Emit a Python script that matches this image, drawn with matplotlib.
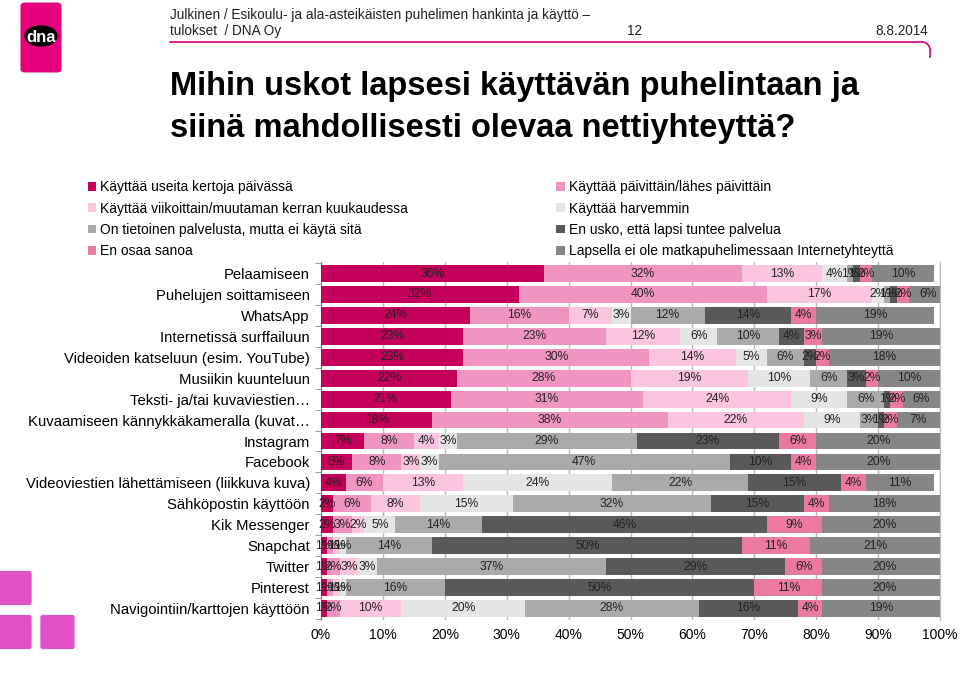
import matplotlib.pyplot as plt
import matplotlib.patches as mpatches
import numpy as np

plt.rcParams['font.family'] = ['Liberation Sans', 'DejaVu Sans']

categories = ["Pelaamiseen", "Puhelujen soittamiseen", "WhatsApp", "Internetissä surffailuun",
              "Videoiden katseluun (esim. YouTube)", "Musiikin kuunteluun",
              "Teksti- ja/tai kuvaviestien…", "Kuvaamiseen kännykkäkameralla (kuvat…",
              "Instagram", "Facebook", "Videoviestien lähettämiseen (liikkuva kuva)",
              "Sähköpostin käyttöön", "Kik Messenger", "Snapchat", "Twitter", "Pinterest",
              "Navigointiin/karttojen käyttöön"]

series_names = ["Käyttää useita kertoja päivässä", "Käyttää päivittäin/lähes päivittäin",
                "Käyttää viikoittain/muutaman kerran kuukaudessa", "Käyttää harvemmin",
                "On tietoinen palvelusta, mutta ei käytä sitä", "En usko, että lapsi tuntee palvelua",
                "En osaa sanoa", "Lapsella ei ole matkapuhelimessaan Internetyhteyttä"]

useita = [36, 32, 24, 23, 23, 22, 21, 18, 7, 5, 4, 2, 2, 1, 1, 1, 1]
paivittain = [32, 40, 16, 23, 30, 28, 31, 38, 8, 8, 6, 6, 3, 1, 2, 1, 2]
viikoittain = [13, 17, 7, 12, 14, 19, 24, 22, 4, 3, 13, 8, 2, 1, 3, 1, 10]
harvemmin = [4, 2, 3, 6, 5, 10, 9, 9, 3, 3, 24, 15, 5, 1, 3, 1, 20]
tietoinen = [1, 1, 12, 10, 6, 6, 6, 3, 29, 47, 22, 32, 14, 14, 37, 16, 28]
en_usko = [1, 1, 14, 4, 2, 3, 1, 1, 23, 10, 15, 15, 46, 50, 29, 50, 16]
en_osaa = [2, 2, 4, 3, 2, 2, 2, 2, 6, 4, 4, 4, 9, 11, 6, 11, 4]
ei_nettia = [10, 6, 19, 19, 18, 10, 6, 7, 20, 20, 11, 18, 20, 21, 20, 20, 19]

all_series = [useita, paivittain, viikoittain, harvemmin, tietoinen, en_usko, en_osaa, ei_nettia]
colors = ["#C4005A", "#F095C2", "#FBC5E0", "#E5E5E5", "#AAAAAA", "#595959", "#EC7A9F", "#868686"]

fig = plt.figure(figsize=(9.6, 6.95), dpi=100)

# header
fig.text(170/960, 1-15/695, "Julkinen / Esikoulu- ja ala-asteikäisten puhelimen hankinta ja käyttö –",
         fontsize=9.8, va='center', color='#222222')
fig.text(170/960, 1-31/695, "tulokset  / DNA Oy", fontsize=9.8, va='center', color='#222222')
fig.text(634/960, 1-31/695, "12", fontsize=9.8, va='center', ha='center', color='#222222')
fig.text(928/960, 1-31/695, "8.8.2014", fontsize=9.8, va='center', ha='right', color='#222222')
fig.add_artist(plt.Line2D([170/960, 922/960], [1-42/695, 1-42/695], color='#D4007A', lw=1.2))
fig.add_artist(mpatches.Arc((922/960, 1-50/695), 16/960, 16/695, theta1=0, theta2=90,
                            color='#D4007A', lw=1.2))
fig.add_artist(plt.Line2D([930/960, 930/960], [1-50/695, 1-57/695], color='#D4007A', lw=1.2))

fig.text(170/960, 1-86/695, "Mihin uskot lapsesi käyttävän puhelintaan ja", fontsize=23.5,
         fontweight='bold', va='center')
fig.text(170/960, 1-128/695, "siinä mahdollisesti olevaa nettiyhteyttä?", fontsize=23.5,
         fontweight='bold', va='center')

# logo
fig.add_artist(mpatches.FancyBboxPatch((25/960, 1-69/695), 32/960, 63/695,
                                       boxstyle="round,pad=0.004", color='#E6007E'))
fig.add_artist(mpatches.Ellipse((41/960, 1-36/695), 32/960, 20/695, color='black'))
fig.text(41/960, 1-37/695, "dna", color='white', fontsize=12, fontweight='bold',
         ha='center', va='center')

# decorative squares bottom left
for (x0, y0) in [(0, 573), (0, 617), (43, 617)]:
    fig.add_artist(mpatches.FancyBboxPatch((x0/960, 1-(y0+30)/695), 29/960, 30/695,
                                           boxstyle="round,pad=0.002", color='#E152C4'))

ax = fig.add_axes([321/960, 1-620/695, 619/960, 358/695])
y = np.arange(len(categories))
left = np.zeros(len(categories))
for vals, col, name in zip(all_series, colors, series_names):
    vals = np.array(vals, dtype=float)
    ax.barh(y, vals, left=left, height=0.8, color=col, label=name, zorder=3)
    for yi, (l, v) in enumerate(zip(left, vals)):
        ax.text(l + v/2, yi, f"{int(v)}%", ha='center', va='center', fontsize=8.7,
                color='#222222', zorder=4)
    left += vals

ax.set_xlim(0, 100)
ax.set_ylim(len(categories) - 0.45, -0.55)
ax.set_xticks(np.arange(0, 101, 10))
ax.set_xticklabels([f"{t}%" for t in range(0, 101, 10)], fontsize=10)
ax.set_yticks(y)
ax.set_yticklabels(categories, fontsize=10.7)
ax.set_yticks(np.arange(-0.5, len(categories), 1), minor=True)
ax.tick_params(axis='y', which='major', length=0, pad=8)
ax.tick_params(axis='y', which='minor', length=4, color='#888888')
ax.tick_params(axis='x', length=0, pad=6)
ax.grid(axis='x', color='#BBBBBB', lw=1, zorder=0)
for s in ['top', 'bottom']:
    ax.spines[s].set_visible(False)
ax.spines['left'].set_color('#888888')
ax.spines['right'].set_color('#BBBBBB')

handles, labels = ax.get_legend_handles_labels()
order = [0, 2, 4, 6, 1, 3, 5, 7]
fig.legend([handles[i] for i in order], [labels[i] for i in order], ncol=2,
           loc='upper left', bbox_to_anchor=(75/960, 1-168/695), frameon=False,
           fontsize=10, handlelength=0.6, handleheight=0.6, handletextpad=0.3,
           labelspacing=0.52, columnspacing=10.7)

fig.savefig("out.png", dpi=100)
